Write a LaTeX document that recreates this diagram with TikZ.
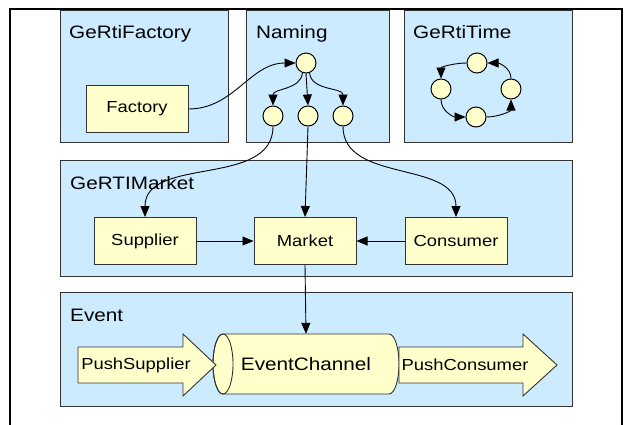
\documentclass[tikz,border=0pt]{standalone}
\usepackage{fontspec}
\setmainfont{Liberation Sans}[FakeStretch=1.15]
\usetikzlibrary{arrows.meta,calc}
\definecolor{grpblue}{RGB}{204,235,255}
\definecolor{itemyel}{RGB}{255,255,204}
\definecolor{boxline}{RGB}{51,51,51}
\tikzset{
  group/.style={draw=boxline, fill=grpblue, line width=1.3pt, anchor=north west, inner sep=0pt},
  grouplabel/.style={anchor=base west, inner sep=0pt, font=\fontsize{18}{21}\selectfont},
  item/.style={draw=boxline, fill=itemyel, line width=1pt, minimum width=102pt, minimum height=47pt,
    inner sep=0pt, font=\fontsize{16}{19}\selectfont},
  dot/.style={circle, draw=black, fill=itemyel, line width=1pt, minimum size=20pt, inner sep=0pt},
  conn/.style={-{Triangle[length=11pt,width=9pt]}, line width=0.9pt},
  blockarrow/.style={draw=boxline, fill=itemyel, line width=0.9pt, line join=miter},
  arrowtext/.style={inner sep=0pt, font=\fontsize{16}{19}\selectfont}
}
\begin{document}
\begin{tikzpicture}[x=1pt, y=-1pt]
\useasboundingbox (0,0) rectangle (624,424);

% group frames
\node[group, minimum width=168pt, minimum height=132pt] (gfac) at (60,10) {};
\node[group, minimum width=143pt, minimum height=132pt] (gnam) at (246,10) {};
\node[group, minimum width=168pt, minimum height=132pt] (gtim) at (404,10) {};
\node[group, minimum width=512pt, minimum height=116pt] (gmkt) at (60,160) {};
\node[group, minimum width=512pt, minimum height=114pt] (gevt) at (60,292) {};

% outer frame, open at the bottom
\draw[line width=2.4pt, line join=miter] (10,430) -- (10,9) -- (622,9) -- (622,430);

% group titles
\node[grouplabel] (tfac) at (69,38) {GeRtiFactory};
\node[grouplabel] (tnam) at (256,38) {Naming};
\node[grouplabel] (ttim) at (413,38) {GeRtiTime};
\node[grouplabel] (tmkt) at (70,189) {GeRTIMarket};
\node[grouplabel] (tevt) at (70,321) {Event};

% factory
\node[item] (factory) at (137,109) {Factory};

% naming tree
\node[dot] (nroot) at (306,63) {};
\node[dot] (n1) at (273,116) {};
\node[dot] (n2) at (308,116) {};
\node[dot] (n3) at (343,116) {};

% time ring
\node[dot] (ttop) at (477,63) {};
\node[dot] (tleft) at (441,89) {};
\node[dot] (tright) at (511,89) {};
\node[dot] (tbot) at (476,117) {};

% market
\node[item] (supplier) at (145,241) {Supplier};
\node[item] (market) at (305,241) {Market};
\node[item] (consumer) at (456,241) {Consumer};

% event channel (cylinder body drawn around the node)
\node[minimum width=186pt, minimum height=60pt, inner sep=0pt] (chan) at (306,364) {};
\filldraw[draw=boxline, fill=itemyel, line width=0.9pt]
  (223,334) -- (389,334) arc[start angle=-90, end angle=90, x radius=10, y radius=30]
  -- (223,394) arc[start angle=90, end angle=270, x radius=10, y radius=30] -- cycle;
\draw[draw=boxline, line width=0.9pt] (223,364) ellipse[x radius=10, y radius=30];
\node[inner sep=0pt, font=\fontsize{18}{21}\selectfont] (chantext) at (chan.center) {EventChannel};

% push arrows
\filldraw[blockarrow] (78,347) -- (183,347) -- (183,334) -- (216,365) -- (183,396) -- (183,383) -- (78,383) -- cycle;
\node[arrowtext] (psup) at (136,365) {PushSupplier};
\filldraw[blockarrow] (399,347) -- (523,347) -- (523,334) -- (557,365) -- (523,396) -- (523,383) -- (399,383) -- cycle;
\node[arrowtext] (pcon) at (465,365) {PushConsumer};

% connectors
\draw[conn] (factory.east) to[out=0, in=180] (nroot.west);
\draw[conn] (nroot.250) to[out=-95, in=90] (n1.north);
\draw[conn] (nroot.south) -- (n2.north);
\draw[conn] (nroot.290) to[out=-85, in=90] (n3.north);

\draw[conn] (ttop.west) to[out=180, in=90] (tleft.north);
\draw[conn] (tleft.south) to[out=-90, in=180] (tbot.west);
\draw[conn] (tbot.east) to[out=0, in=-90] (tright.south);
\draw[conn] (tright.north) to[out=90, in=0] (ttop.east);

\draw[conn] (n1.south) to[out=-90, in=90] (supplier.north);
\draw[conn] (n2.south) -- (market.north);
\draw[conn] (n3.south) to[out=-90, in=90] (consumer.north);

\draw[conn] (supplier.east) -- (market.west);
\draw[conn] (consumer.west) -- (market.east);
\draw[conn] (market.south) -- (chan.north);
\end{tikzpicture}
\end{document}
